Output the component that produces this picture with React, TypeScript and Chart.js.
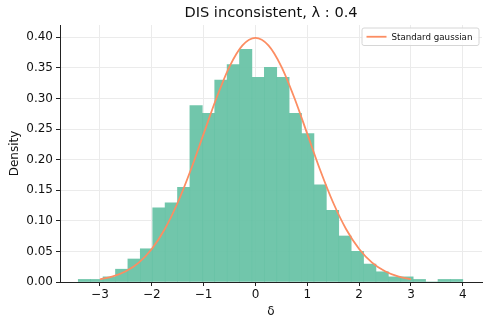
import React, { useEffect, useRef } from 'react';
import { Chart, registerables } from 'chart.js';

Chart.register(...registerables);

// Histogram bin centers (bin width ≈ 0.239) and densities
const binCenters = [
  -3.298, -3.059, -2.82, -2.58, -2.341, -2.102, -1.862, -1.623, -1.384, -1.145,
  -0.905, -0.666, -0.427, -0.188, 0.052, 0.291, 0.53, 0.769, 1.009, 1.248,
  1.487, 1.727, 1.966, 2.205, 2.444, 2.684, 2.923, 3.162, 3.401, 3.641, 3.88,
];
const densities = [
  0.0042, 0.0042, 0.0084, 0.0209, 0.0376, 0.0543, 0.1212, 0.1295, 0.1546, 0.2883,
  0.2758, 0.3301, 0.3552, 0.3803, 0.3343, 0.351, 0.3343, 0.2758, 0.2424, 0.1588,
  0.117, 0.0752, 0.0501, 0.0293, 0.0167, 0.0084, 0.0084, 0.0042, 0, 0.0042, 0.0042,
];

// Standard gaussian curve, read at 0.25 steps
const gaussX = [
  -3, -2.75, -2.5, -2.25, -2, -1.75, -1.5, -1.25, -1, -0.75, -0.5, -0.25, 0,
  0.25, 0.5, 0.75, 1, 1.25, 1.5, 1.75, 2, 2.25, 2.5, 2.75, 3,
];
const gaussY = [
  0.0044, 0.0091, 0.0175, 0.0317, 0.054, 0.0863, 0.1295, 0.1826, 0.242, 0.3011, 0.3521, 0.3867, 0.3989,
  0.3867, 0.3521, 0.3011, 0.242, 0.1826, 0.1295, 0.0863, 0.054, 0.0317, 0.0175, 0.0091, 0.0044,
];

const xTicks = [-3, -2, -1, 0, 1, 2, 3, 4];
const yTicks = [0, 0.05, 0.1, 0.15, 0.2, 0.25, 0.3, 0.35, 0.4];
const xRange = [-3.77, 4.37];
const yRange = [0, 0.42];

const titleText = 'DIS inconsistent, λ : 0.4';
const xLabel = 'δ';
const yLabel = 'Density';
const legendLabel = 'Standard gaussian';

const FONT = '"DejaVu Sans", sans-serif';
const BAR_COLOR = 'rgba(102,194,165,0.93)';
const LINE_COLOR = '#fc8d62';

const decorPlugin = {
  id: 'decor',
  afterDraw(chart: any) {
    const { ctx, chartArea } = chart;
    const cx = (chartArea.left + chartArea.right) / 2;
    ctx.save();
    ctx.fillStyle = '#111';
    ctx.textAlign = 'center';
    ctx.textBaseline = 'middle';
    ctx.font = `14.6px ${FONT}`;
    ctx.fillText(titleText, cx, 13.5);
    ctx.font = `12px ${FONT}`;
    ctx.fillText(xLabel, cx, 312);
    ctx.save();
    ctx.translate(15, (chartArea.top + chartArea.bottom) / 2);
    ctx.rotate(-Math.PI / 2);
    ctx.fillText(yLabel, 0, 0);
    ctx.restore();

    // legend
    const w = 117;
    const h = 17.5;
    const x0 = chartArea.right - 3 - w;
    const y0 = chartArea.top + 3;
    const r = 2;
    ctx.beginPath();
    ctx.moveTo(x0 + r, y0);
    ctx.lineTo(x0 + w - r, y0);
    ctx.quadraticCurveTo(x0 + w, y0, x0 + w, y0 + r);
    ctx.lineTo(x0 + w, y0 + h - r);
    ctx.quadraticCurveTo(x0 + w, y0 + h, x0 + w - r, y0 + h);
    ctx.lineTo(x0 + r, y0 + h);
    ctx.quadraticCurveTo(x0, y0 + h, x0, y0 + h - r);
    ctx.lineTo(x0, y0 + r);
    ctx.quadraticCurveTo(x0, y0, x0 + r, y0);
    ctx.closePath();
    ctx.fillStyle = 'rgba(255,255,255,0.85)';
    ctx.fill();
    ctx.strokeStyle = '#d6d6d6';
    ctx.lineWidth = 1;
    ctx.stroke();
    const ly = y0 + h / 2;
    ctx.beginPath();
    ctx.moveTo(x0 + 4.5, ly);
    ctx.lineTo(x0 + 24.5, ly);
    ctx.strokeStyle = LINE_COLOR;
    ctx.lineWidth = 1.8;
    ctx.stroke();
    ctx.fillStyle = '#111';
    ctx.textAlign = 'left';
    ctx.font = `8.7px ${FONT}`;
    ctx.fillText(legendLabel, x0 + 29.5, ly + 0.5);
    ctx.restore();
  },
};

const fmtX = (v: number) => (v < 0 ? '\u2212' + Math.abs(v) : String(v));

export default function App() {
  const ref = useRef<HTMLCanvasElement | null>(null);

  useEffect(() => {
    if (!ref.current) return;
    const chart = new Chart(ref.current, {
      type: 'bar',
      data: {
        datasets: [
          {
            type: 'line',
            label: legendLabel,
            data: gaussX.map((x, i) => ({ x, y: gaussY[i] })),
            borderColor: LINE_COLOR,
            borderWidth: 1.8,
            pointRadius: 0,
            cubicInterpolationMode: 'monotone',
            fill: false,
            order: 0,
          } as any,
          {
            type: 'bar',
            label: 'hist',
            data: binCenters.map((x, i) => ({ x, y: densities[i] })),
            backgroundColor: BAR_COLOR,
            borderWidth: 0,
            barPercentage: 1,
            categoryPercentage: 1,
            order: 1,
          } as any,
        ],
      },
      options: {
        animation: false,
        responsive: false,
        devicePixelRatio: 1,
        layout: { padding: { top: 25, right: 7, left: 0, bottom: 0 } },
        plugins: {
          legend: { display: false },
          title: { display: false },
          tooltip: { enabled: false },
        },
        scales: {
          x: {
            type: 'linear',
            min: xRange[0],
            max: xRange[1],
            offset: false,
            grid: {
              offset: false,
              color: '#ebebeb',
              lineWidth: 1,
              tickColor: '#222',
              tickLength: 4,
              tickWidth: 1,
            },
            border: { display: true, color: '#222', width: 1 },
            afterBuildTicks: (s: any) => {
              s.ticks = xTicks.map((v) => ({ value: v }));
            },
            afterFit: (s: any) => {
              s.height = 45;
            },
            ticks: {
              font: { family: FONT, size: 12 },
              color: '#111',
              padding: 2,
              maxRotation: 0,
              autoSkip: false,
              callback: (v: any) => fmtX(Number(v)),
            },
          },
          y: {
            type: 'linear',
            min: yRange[0],
            max: yRange[1],
            grid: {
              color: '#ebebeb',
              lineWidth: 1,
              tickColor: '#222',
              tickLength: 4,
              tickWidth: 1,
            },
            border: { display: true, color: '#222', width: 1 },
            afterBuildTicks: (s: any) => {
              s.ticks = yTicks.map((v) => ({ value: v }));
            },
            afterFit: (s: any) => {
              s.width = 60;
            },
            ticks: {
              font: { family: FONT, size: 12 },
              color: '#111',
              padding: 3,
              autoSkip: false,
              callback: (v: any) => Number(v).toFixed(2),
            },
          },
        },
      },
      plugins: [decorPlugin],
    });
    return () => chart.destroy();
  }, []);

  return (
    <div style={{ position: 'absolute', left: 0, top: 0, width: 489, height: 327, background: '#fff' }}>
      <canvas ref={ref} width={489} height={327} style={{ display: 'block', width: 489, height: 327 }} />
    </div>
  );
}
